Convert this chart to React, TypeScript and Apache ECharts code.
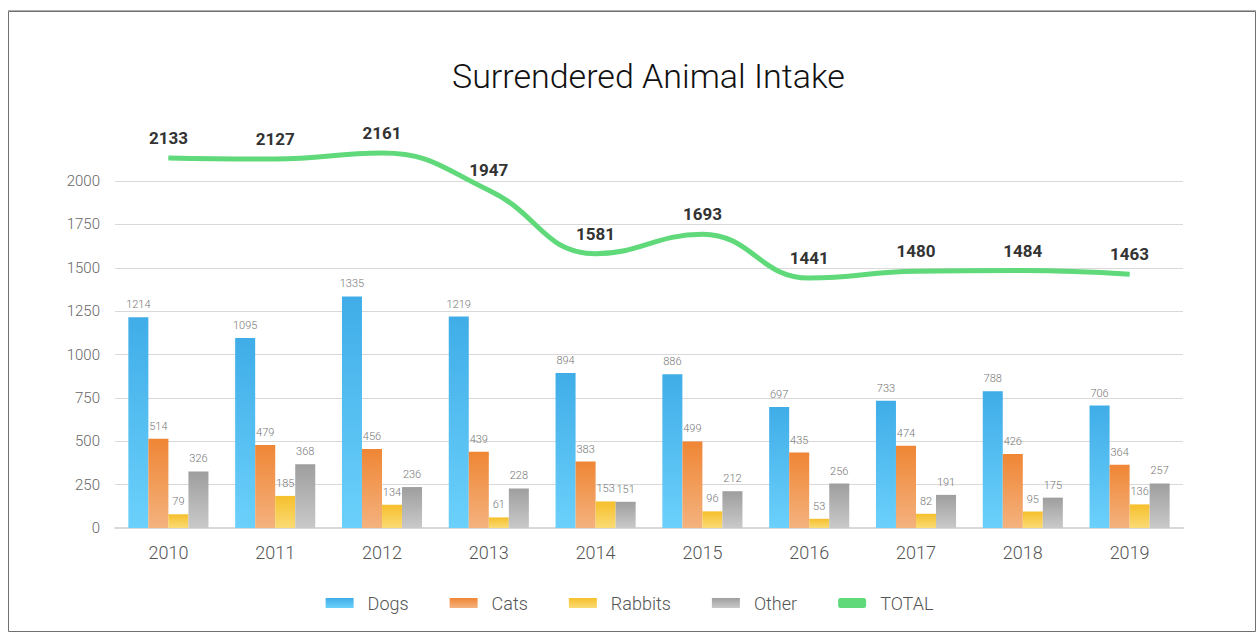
import React, { useEffect, useRef } from "react";
import * as echarts from "echarts";

const years = ["2010", "2011", "2012", "2013", "2014", "2015", "2016", "2017", "2018", "2019"];
const dogs = [1214, 1095, 1335, 1219, 894, 886, 697, 733, 788, 706];
const cats = [514, 479, 456, 439, 383, 499, 435, 474, 426, 364];
const rabbits = [79, 185, 134, 61, 153, 96, 53, 82, 95, 136];
const other = [326, 368, 236, 228, 151, 212, 256, 191, 175, 257];
const total = [2133, 2127, 2161, 1947, 1581, 1693, 1441, 1480, 1484, 1463];

const FONT = "Roboto, 'Noto Sans', sans-serif";

const grad = (top: string, bottom: string) =>
  new echarts.graphic.LinearGradient(0, 0, 0, 1, [
    { offset: 0, color: top },
    { offset: 1, color: bottom },
  ]);

const barLabel = {
  show: true,
  position: "top" as const,
  distance: 7,
  color: "#777",
  fontSize: 11,
  fontWeight: 300,
  fontFamily: FONT,
};

export default function App() {
  const ref = useRef<HTMLDivElement>(null);
  useEffect(() => {
    if (!ref.current) return;
    const chart = echarts.init(ref.current, undefined, { renderer: "svg" });
    const barSeries = (name: string, data: number[], top: string, bottom: string) => ({
      name,
      type: "bar",
      data,
      barGap: "0%",
      barCategoryGap: "25%",
      itemStyle: { color: grad(top, bottom) },
      label: barLabel,
    });
    chart.setOption({
      animation: false,
      backgroundColor: "#ffffff",
      title: {
        text: "Surrendered Animal Intake",
        left: 447,
        top: 54,
        textStyle: { fontSize: 34, fontWeight: 300, color: "#111", fontFamily: FONT },
      },
      graphic: [
        {
          type: "rect",
          shape: { x: 8.5, y: 11.5, width: 1247, height: 620 },
          style: { fill: "none", stroke: "#707070", lineWidth: 1 },
        },
        {
          type: "line",
          shape: { x1: 8, y1: 10.5, x2: 1256, y2: 10.5 },
          style: { stroke: "#b0b0b0", lineWidth: 1 },
        },
      ],
      legend: {
        bottom: 17,
        left: "center",
        itemWidth: 28,
        itemHeight: 10,
        itemGap: 41,
        icon: "rect",
        textStyle: { fontSize: 18, fontWeight: 300, color: "#555", fontFamily: FONT, padding: [0, 0, 0, 9] },
        data: [
          { name: "Dogs", icon: "rect" },
          { name: "Cats", icon: "rect" },
          { name: "Rabbits", icon: "rect" },
          { name: "Other", icon: "rect" },
          { name: "TOTAL", icon: "roundRect", itemStyle: { color: "#5fd97a" } },
        ],
      },
      grid: { left: 115, right: 76, top: 181, bottom: 106 },
      xAxis: {
        type: "category",
        data: years,
        axisTick: { show: false },
        axisLine: { lineStyle: { color: "#d9d9d9", width: 2 } },
        axisLabel: { fontSize: 18, fontWeight: 300, color: "#555", margin: 15, fontFamily: FONT },
      },
      yAxis: {
        type: "value",
        min: 0,
        max: 2000,
        interval: 250,
        axisLine: { show: false },
        axisTick: { show: false },
        axisLabel: {
          fontSize: 15,
          fontWeight: 300,
          color: "#666",
          margin: 15,
          fontFamily: FONT,
          formatter: (v: number) => String(v),
        },
        splitLine: { lineStyle: { color: "#d9d9d9", width: 1 } },
      },
      series: [
        barSeries("Dogs", dogs, "#40ade8", "#6bd0fb"),
        barSeries("Cats", cats, "#ef8635", "#f4b27e"),
        barSeries("Rabbits", rabbits, "#f6bf2c", "#fadb74"),
        barSeries("Other", other, "#9e9e9e", "#c9c9c9"),
        {
          name: "TOTAL",
          type: "line",
          data: total,
          smooth: 0.45,
          clip: false,
          symbol: "circle",
          symbolSize: 1,
          itemStyle: { color: "#5fd97a" },
          lineStyle: { color: "#5fd97a", width: 5 },
          label: {
            show: true,
            position: "top",
            distance: 11,
            fontSize: 17,
            fontWeight: "bold",
            color: "#333",
            fontFamily: FONT,
          },
          z: 5,
        },
      ],
    });
    return () => chart.dispose();
  }, []);
  return (
    <div
      ref={ref}
      style={{ position: "fixed", left: 0, top: 0, width: 1259, height: 634 }}
    />
  );
}
